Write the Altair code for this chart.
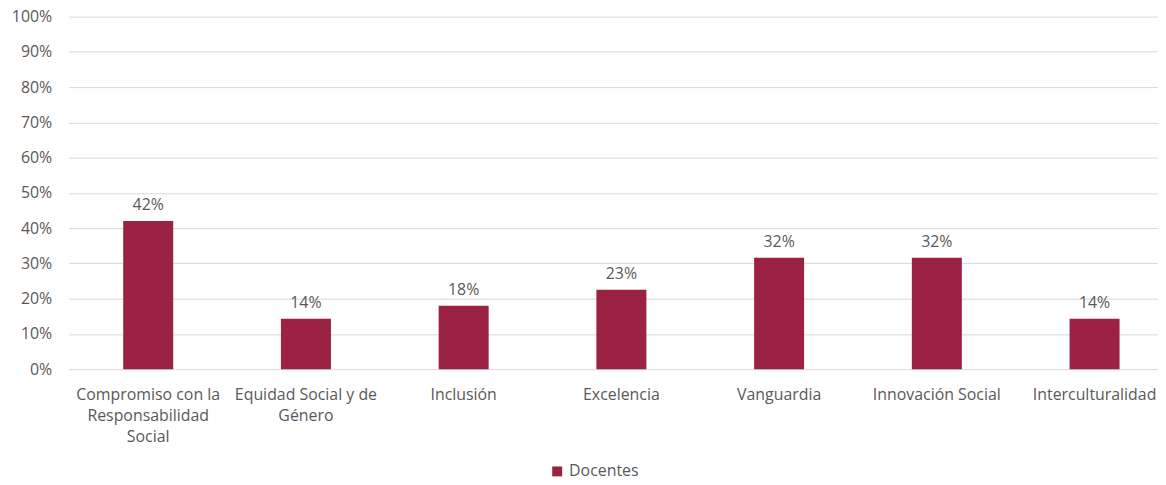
import altair as alt
import pandas as pd

categories = [
    "Compromiso con la|Responsabilidad|Social",
    "Equidad Social y de|Género",
    "Inclusión",
    "Excelencia",
    "Vanguardia",
    "Innovación Social",
    "Interculturalidad",
]
values = [0.42, 0.143, 0.18, 0.225, 0.316, 0.316, 0.143]
labels = ["42%", "14%", "18%", "23%", "32%", "32%", "14%"]
series = ["Docentes"] * len(categories)
y_ticks = [0.0, 0.1, 0.2, 0.3, 0.4, 0.5, 0.6, 0.7, 0.8, 0.9, 1.0]

df = pd.DataFrame({"cat": categories, "value": values, "label": labels, "serie": series})

FONT = "Open Sans"
TXT = "#595959"
BAR = "#9B2243"

x = alt.X("cat:N", sort=categories, title=None,
          scale=alt.Scale(paddingInner=0.683, paddingOuter=0.295, align=0.587, round=False),
          axis=alt.Axis(labelExpr="split(datum.label, '|')", labelAngle=0,
                        labelFontSize=16, labelColor=TXT, labelFont=FONT,
                        domain=False, ticks=False, labelPadding=18, labelLineHeight=21,
                        labelBaseline="top"))

y = alt.Y("value:Q", title=None,
          scale=alt.Scale(domain=[0, 1]),
          axis=alt.Axis(format=".0%", values=y_ticks, labelOverlap=False,
                        labelFontSize=16, labelColor=TXT, labelFont=FONT,
                        domain=False, ticks=False, labelPadding=17,
                        gridColor="#d9d9d9", gridWidth=1))

base = alt.Chart(df).encode(x=x, y=y)

bars = base.mark_bar(color=BAR).encode(
    color=alt.Color("serie:N", title=None,
                    scale=alt.Scale(range=[BAR]),
                    legend=alt.Legend(orient="none", legendX=484, legendY=450,
                                      direction="horizontal", symbolType="square",
                                      labelFontSize=16, labelColor=TXT, labelFont=FONT,
                                      symbolSize=100, symbolStrokeWidth=0, padding=0)),
)

text = base.mark_text(baseline="bottom", dy=-8, fontSize=16, font=FONT, color=TXT).encode(
    text="label:N",
)

chart = (bars + text).properties(
    width=1097, height=355,
    background="white",
    autosize=alt.AutoSizeParams(type="none"),
    padding={"left": 61, "top": 7, "right": 0, "bottom": 115},
).configure_view(strokeWidth=0)

chart.save("out.html", embed_options={"renderer": "svg", "actions": False})
